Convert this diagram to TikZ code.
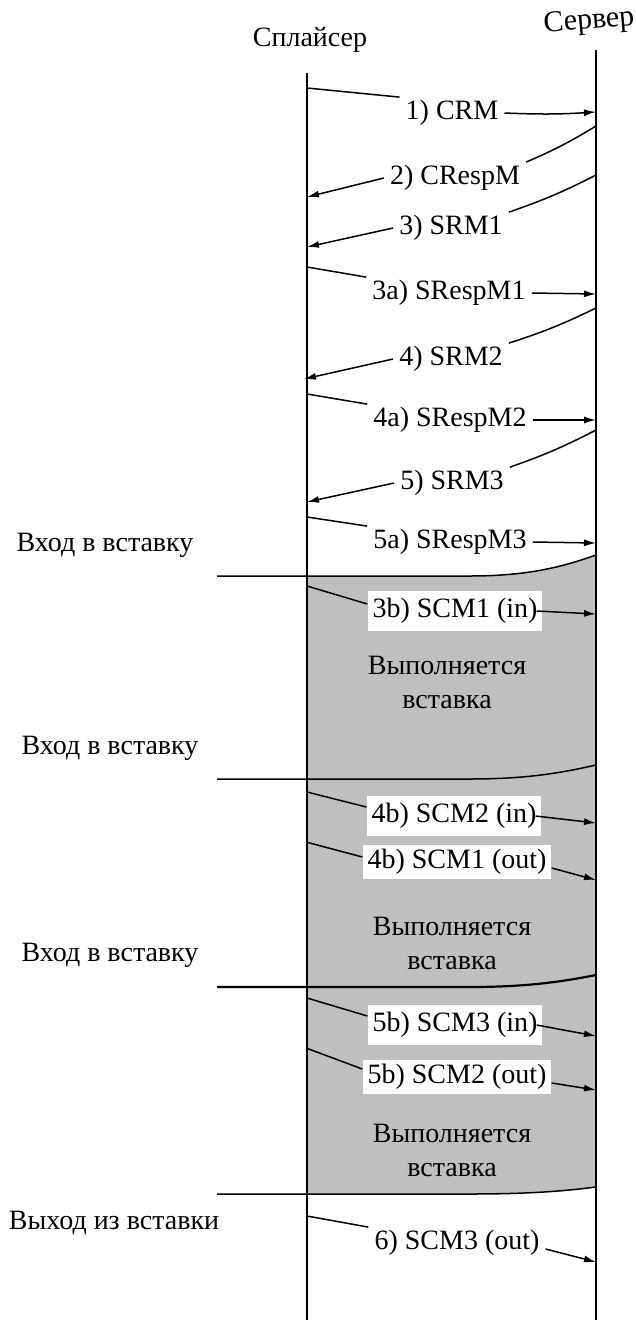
\documentclass[tikz,border=0pt]{standalone}
\usepackage{fontspec}
\setmainfont{Liberation Serif}
\usepackage{xcolor}
\usepackage{tikz}
\usetikzlibrary{arrows.meta}

\tikzset{
  msg/.style={font=\fontsize{28}{30}\selectfont, inner xsep=6pt, inner ysep=3pt},
  msgbox/.style={msg, fill=white, inner xsep=5pt, inner ysep=7pt},
  side/.style={font=\fontsize{28}{30}\selectfont},
  busy/.style={font=\fontsize{28}{34}\selectfont, align=center},
  life/.style={line width=2.7pt},
  wire/.style={line width=1.5pt},
  arr/.style={wire, -{Latex[length=12pt,width=7pt]}},
  edge/.style={line width=1.5pt}
}

\begin{document}
\begin{tikzpicture}[x=1pt,y=-1pt]
    \useasboundingbox (0,0) rectangle (636,1326);

    % Insertion area
    \fill[black!25] (307,576) -- (470,576) .. controls (530,576) and (565,566) .. (596,555)
        -- (596,1187) .. controls (565,1191) and (530,1194) .. (470,1194) -- (307,1194) -- cycle;

    % Lifelines
    \coordinate (Ltop) at (307,73);
    \coordinate (Lbot) at (307,1320);
    \coordinate (Rtop) at (596,50);
    \coordinate (Rbot) at (596,1320);
    \draw[life] (Ltop) -- (Lbot);
    \draw[life] (Rtop) -- (Rbot);
    \node[side] (spl) at (310,40) {Сплайсер};
    \node[side, font=\fontsize{30}{32}\selectfont, rotate=5] (srv) at (589,22) {Сервер};

    % Boundaries
    \node[side] (in1) at (105,545) {Вход в вставку};
    \coordinate (b1l) at (217,576); \coordinate (b1r) at (596,555);
    \draw[edge] (b1l) -- (470,576) .. controls (530,576) and (565,566) .. (b1r);

    \node[side] (in2) at (110,748) {Вход в вставку};
    \coordinate (b2l) at (217,779); \coordinate (b2r) at (596,765);
    \draw[edge] (b2l) -- (470,779) .. controls (530,779) and (565,772) .. (b2r);

    \node[side] (in3) at (110,955) {Вход в вставку};
    \coordinate (b3l) at (217,987); \coordinate (b3r) at (596,975);
    \draw[edge, line width=2.2pt] (b3l) -- (470,987) .. controls (530,987) and (565,981) .. (b3r);

    \node[side] (out1) at (114,1223) {Выход из вставки};
    \coordinate (b4l) at (217,1194); \coordinate (b4r) at (596,1187);
    \draw[edge] (b4l) -- (470,1194) .. controls (530,1194) and (565,1191) .. (b4r);

    % 1) CRM
    \node[msg] (m1) at (452,113) {1) CRM};
    \coordinate (m1s) at (307,88); \coordinate (m1e) at (596,112);
    \draw[wire] (m1s) -- (m1.north west);
    \draw[arr] (m1.east) to[bend right=3] (m1e);

    % 2) CRespM
    \node[msg] (m2) at (455,178) {2) CRespM};
    \coordinate (m2s) at (596,126); \coordinate (m2e) at (307,197);
    \draw[wire] (m2s) to[bend left=4] (m2.north east);
    \draw[arr] (m2.west) -- (m2e);

    % 3) SRM1
    \node[msg] (m3) at (451,228) {3) SRM1};
    \coordinate (m3s) at (596,175); \coordinate (m3e) at (307,247);
    \draw[wire] (m3s) to[bend left=4] (m3.north east);
    \draw[arr] (m3.west) -- (m3e);

    % 3a) SRespM1
    \node[msg] (m3a) at (449,293) {3a) SRespM1};
    \coordinate (m3as) at (307,267); \coordinate (m3ae) at (596,294);
    \draw[wire] (m3as) -- (m3a.north west);
    \draw[arr] (m3a.east) -- (m3ae);

    % 4) SRM2
    \node[msg] (m4) at (451,359) {4) SRM2};
    \coordinate (m4s) at (596,308); \coordinate (m4e) at (304,379);
    \draw[wire] (m4s) to[bend left=4] (m4.north east);
    \draw[arr] (m4.west) -- (m4e);

    % 4a) SRespM2
    \node[msg] (m4a) at (450,420) {4a) SRespM2};
    \coordinate (m4as) at (307,394); \coordinate (m4ae) at (596,420);
    \draw[wire] (m4as) -- (m4a.north west);
    \draw[arr] (m4a.east) -- (m4ae);

    % 5) SRM3
    \node[msg] (m5) at (452,483) {5) SRM3};
    \coordinate (m5s) at (596,430); \coordinate (m5e) at (307,502);
    \draw[wire] (m5s) to[bend left=4] (m5.north east);
    \draw[arr] (m5.west) -- (m5e);

    % 5a) SRespM3
    \node[msg] (m5a) at (450,542) {5a) SRespM3};
    \coordinate (m5as) at (307,517); \coordinate (m5ae) at (596,543);
    \draw[wire] (m5as) -- (m5a.north west);
    \draw[arr] (m5a.east) -- (m5ae);

    % 3b) SCM1 (in)
    \node[msgbox] (m3b) at (455,611) {3b) SCM1 (in)};
    \coordinate (m3bs) at (307,586); \coordinate (m3be) at (596,614);
    \draw[wire] (m3bs) -- ([yshift=7pt]m3b.west);
    \draw[arr] ([xshift=-6pt]m3b.east) -- (m3be);
    \node[busy] (g1) at (447,682) {Выполняется\\вставка};

    % 4b) SCM2 (in), SCM1 (out)
    \node[msgbox] (m4b) at (454,816) {4b) SCM2 (in)};
    \coordinate (m4bs) at (307,792); \coordinate (m4be) at (596,823);
    \draw[wire] (m4bs) -- ([yshift=9pt]m4b.west);
    \draw[arr] ([xshift=-6pt]m4b.east) -- (m4be);

    \node[msgbox, inner ysep=4pt] (m4c) at (457,862) {4b) SCM1 (out)};
    \coordinate (m4cs) at (306,842); \coordinate (m4ce) at (596,880);
    \draw[wire] (m4cs) -- ([yshift=5pt]m4c.west);
    \draw[arr] ([yshift=-6pt]m4c.east) -- (m4ce);
    \node[busy] (g2) at (452,943) {Выполняется\\вставка};

    % 5b) SCM3 (in), SCM2 (out)
    \node[msgbox] (m5b) at (455,1025) {5b) SCM3 (in)};
    \coordinate (m5bs) at (307,998); \coordinate (m5be) at (596,1036);
    \draw[wire] (m5bs) -- ([yshift=9pt]m5b.west);
    \draw[arr] ([xshift=-6pt]m5b.east) -- (m5be);

    \node[msgbox, inner ysep=4pt] (m5c) at (457,1077) {5b) SCM2 (out)};
    \coordinate (m5cs) at (306,1048); \coordinate (m5ce) at (596,1090);
    \draw[wire] (m5cs) -- ([yshift=8pt]m5c.west);
    \draw[arr] ([yshift=-6pt]m5c.east) -- (m5ce);
    \node[busy] (g3) at (452,1150) {Выполняется\\вставка};

    % 6) SCM3 (out)
    \node[msg] (m6) at (457,1243) {6) SCM3 (out)};
    \coordinate (m6s) at (307,1216); \coordinate (m6e) at (596,1262);
    \draw[wire] (m6s) -- (m6.north west);
    \draw[arr] ([yshift=-6pt]m6.east) -- (m6e);
\end{tikzpicture}
\end{document}
